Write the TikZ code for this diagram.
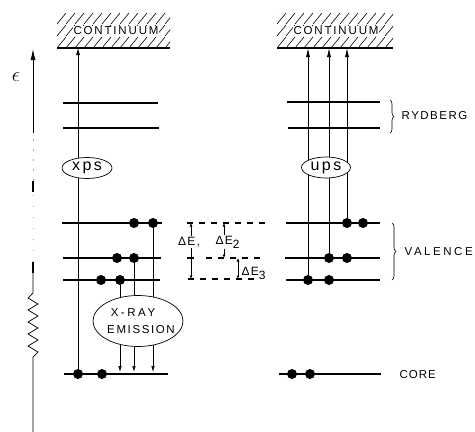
\documentclass[tikz,border=0pt]{standalone}
\usepackage{fontspec}
\setmainfont{Liberation Sans}
\usetikzlibrary{shapes.geometric,arrows.meta,decorations.pathreplacing}
\newcommand\ls[2]{{\addfontfeatures{LetterSpace=#1}#2}}
\begin{document}
\begin{tikzpicture}[x=1pt,y=-1pt,
  lvl/.style={line width=1.7pt},
  edot/.style={circle,fill=black,inner sep=0pt,minimum size=10pt},
  vl/.style={line width=0.7pt},
  uarr/.style={vl,-{Latex[length=9pt,width=4pt]}},
  darr/.style={line width=0.7pt,-{Latex[length=3.5pt,width=3pt]}},
  hatch/.style={line width=0.6pt},
  caps/.style={font=\fontsize{11.5}{13}\selectfont,inner sep=0.5pt},
  dl/.style={font=\fontsize{12}{14}\selectfont,inner sep=0.5pt},
  bub/.style={ellipse,draw,line width=0.7pt,fill=white,inner sep=0pt,font=\fontsize{16}{18}\selectfont},
  dsh/.style={line width=1.3pt,dash pattern=on 6pt off 6pt},
  brc/.style={decorate,decoration={brace,amplitude=4pt},line width=0.6pt}]
\useasboundingbox (0,0) rectangle (475,432);

% ---------- energy axis ----------
\draw[line width=0.7pt] (33,432) -- (33,357) -- (38,352) -- (28,346) -- (38,340) -- (28,334) -- (38,328) -- (28,322) -- (38,316) -- (28,310) -- (38,304) -- (28,298) -- (33,293) -- (33,262);
\draw[line width=1.4pt] (33,262) -- (33,273);
\draw[gray!70,line width=0.7pt,dash pattern=on 1pt off 10pt] (33,262) -- (33,192);
\draw[line width=1.4pt] (33,181) -- (33,192);
\draw[gray!70,line width=0.7pt,dash pattern=on 2pt off 8pt] (33,181) -- (33,133);
\draw[line width=0.8pt,-{Latex[length=11pt,width=5pt]}] (33,133) -- (33,49);
\node[font=\fontsize{22}{24}\selectfont,inner sep=0pt] (eps) at (16,77) {$\epsilon$};

% ---------- left continuum ----------
\begin{scope}
\clip (57,13) rectangle (170,48);
\foreach \x in {48,57,...,170}{
  \draw[hatch] (\x,48) -- (\x+9,37);
  \draw[hatch] (\x,36) -- (\x+9,25);
  \draw[hatch] (\x,24) -- (\x+9,13);}
\end{scope}
\coordinate (lcont) at (57,48);
\draw[line width=1.6pt] (lcont) -- (170,48);
\node[caps,fill=white] (lctext) at (116,31) {\ls{16}{CONTINUUM}};

% ---------- right continuum ----------
\begin{scope}
\clip (277,13) rectangle (393,48);
\foreach \x in {268,277,...,393}{
  \draw[hatch] (\x,48) -- (\x+9,37);
  \draw[hatch] (\x,36) -- (\x+9,25);
  \draw[hatch] (\x,24) -- (\x+9,13);}
\end{scope}
\coordinate (rcont) at (277,48);
\draw[line width=1.6pt] (rcont) -- (393,48);
\node[caps,fill=white] (rctext) at (336,31) {\ls{16}{CONTINUUM}};

% ---------- left levels ----------
\draw[lvl] (63,103) -- (158,103);
\draw[lvl] (63,128) -- (159,128);
\draw[lvl] (62,223) -- (162,223);
\draw[lvl] (63,258) -- (161,258);
\draw[lvl] (63,280) -- (160,280);
\draw[lvl] (64,374) -- (168,374);

\node[edot] (lv1a) at (134,223) {};
\node[edot] (lv1b) at (153,223) {};
\node[edot] (lv2a) at (117,258) {};
\node[edot] (lv2b) at (134,258) {};
\node[edot] (lv3a) at (101,280) {};
\node[edot] (lv3b) at (120,280) {};
\node[edot] (lc1) at (78,374) {};
\node[edot] (lc2) at (102,374) {};

\coordinate (xrc) at (138,321);
\coordinate (lcore) at (64,372);

\draw[vl,-{Latex[length=7pt,width=4pt]}] (lc1) -- (lc1 |- lcont);
\draw[vl] (lv3b) -- (lv3b |- xrc);
\draw[vl] (lv2b) -- (lv2b |- xrc);
\draw[vl] (lv1b) -- (lv1b |- xrc);
\draw[vl,-{Latex[length=6pt,width=3.5pt]}] (lv3b |- xrc) -- (lv3b |- lcore);
\draw[vl,-{Latex[length=6pt,width=3.5pt]}] (lv2b |- xrc) -- (lv2b |- lcore);
\draw[vl,-{Latex[length=6pt,width=3.5pt]}] (lv1b |- xrc) -- (lv1b |- lcore);

\node[bub,minimum width=50pt,minimum height=21pt] (xps) at (87,168) {\ls{15}{xps}};
\node[bub,minimum width=90pt,minimum height=51pt] (xray) at (xrc) {};
\node[caps] (xr1) at (133,313) {\ls{22}{X-RAY}};
\node[caps] (xr2) at (141,330) {\ls{14}{EMISSION}};

% ---------- right levels ----------
\draw[lvl] (287,102) -- (380,102);
\draw[lvl] (288,128) -- (380,128);
\draw[lvl] (286,223) -- (380,223);
\draw[lvl] (285,258) -- (380,258);
\draw[lvl] (286,280) -- (380,280);
\draw[lvl] (279,374) -- (381,374);

\node[edot] (rv1a) at (347,223) {};
\node[edot] (rv1b) at (363,223) {};
\node[edot] (rv2a) at (329,258) {};
\node[edot] (rv2b) at (347,258) {};
\node[edot] (rv3a) at (308,280) {};
\node[edot] (rv3b) at (329,280) {};
\node[edot] (rc1) at (292,374) {};
\node[edot] (rc2) at (310,374) {};

\draw[uarr] (rv3a) -- (rv3a |- rcont);
\draw[uarr] (rv2a) -- (rv2a |- rcont);
\draw[uarr] (rv1a) -- (rv1a |- rcont);

\node[bub,minimum width=49pt,minimum height=21pt] (ups) at (326,167.5) {\ls{15}{ups}};

\draw[brc] (390,100) -- (390,133);
\node[caps,anchor=west] (ryd) at (401,116) {\ls{13}{RYDBERG}};
\draw[brc] (392,223) -- (392,280);
\node[caps,anchor=west] (val) at (404,252) {\ls{22}{VALENCE}};
\node[caps,anchor=west] (core) at (399,375) {\ls{8}{CORE}};

% ---------- energy differences ----------
\draw[dsh] (187,223) -- (268,223);
\draw[dsh] (206,258) -- (262,258);
\draw[dsh] (188,279) -- (256,279);
\draw[line width=1.2pt] (187,258) -- (194,258);

\node[dl] (d1) at (189,242) {\ls{10}{ΔE,}};
\node[dl,anchor=west] (d2) at (215,242) {\ls{10}{ΔE}\raisebox{-4pt}{2}};
\node[dl,anchor=west] (d3) at (241,273) {\ls{10}{ΔE}\raisebox{-4pt}{3}};
\coordinate (t1) at (191,223);
\coordinate (b1) at (191,279);
\coordinate (t2) at (224,223);
\coordinate (b2) at (224,258);
\coordinate (t3) at (238,258);
\coordinate (b3) at (238,279);
\draw[darr] (t1 |- d1.north) -- (t1);
\draw[darr] (b1 |- d1.south) -- (b1);
\draw[darr] (t2 |- d2.north) -- (t2);
\draw[darr] (b2 |- d2.south) -- (b2);
\draw[line width=0.7pt,{Latex[length=3.5pt,width=3pt]}-{Latex[length=3.5pt,width=3pt]}] (t3) -- (b3);
\end{tikzpicture}
\end{document}
